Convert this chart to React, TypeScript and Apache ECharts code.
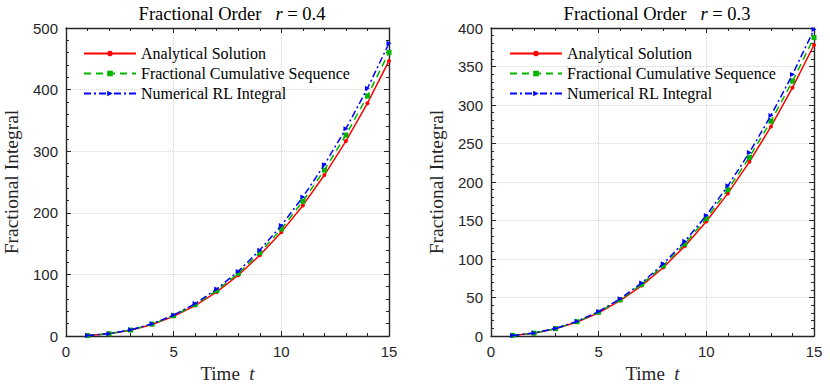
import React, { useEffect, useRef } from "react";
import * as echarts from "echarts";

const T = [1, 2, 3, 4, 5, 6, 7, 8, 9, 10, 11, 12, 13, 14, 15];

// r = 0.4
const A4 = [0.67, 3.54, 9.37, 18.69, 31.93, 49.47, 71.6, 98.6, 131.0, 168.6, 212.0, 261.3, 316.4, 378.0, 446.6];
const F4 = [0.69, 3.65, 9.66, 19.27, 32.92, 51.0, 73.8, 101.7, 135.1, 173.8, 218.6, 269.4, 326.2, 389.7, 460.5];
const R4 = [0.71, 3.77, 9.97, 19.89, 33.97, 52.6, 76.2, 104.9, 139.4, 179.4, 225.6, 278.0, 336.6, 402.2, 475.2];

// r = 0.3
const A3 = [0.75, 3.67, 9.33, 18.08, 30.19, 45.94, 65.48, 89.0, 116.7, 148.7, 185.2, 226.2, 271.9, 322.5, 377.9];
const F3 = [0.77, 3.77, 9.57, 18.55, 30.97, 47.1, 67.2, 91.3, 119.7, 152.6, 190.0, 232.1, 279.0, 330.9, 387.7];
const R3 = [0.78, 3.86, 9.82, 19.04, 31.79, 48.4, 68.9, 93.7, 122.9, 156.6, 195.0, 238.2, 286.3, 339.6, 398.0];

const NAMES = ["Analytical Solution", "Fractional Cumulative Sequence", "Numerical RL Integral"];
const TITLES = ["0.4", "0.3"];
const YMAX = [500, 400];
const YINT = [100, 50];

const AXIS_COLOR = "#262626";
const SERIF = "Liberation Serif";
const SANS = "Liberation Sans";
const RED = "#ff0000";
const GREEN = "#00b400";
const BLUE = "#0000ff";
const TRI = "path://M0,0 L10,5 L0,10 Z";

export default function App() {
  const ref = useRef<HTMLDivElement>(null);
  useEffect(() => {
    document.body.style.margin = "0";
    const chart = echarts.init(ref.current!, null, { renderer: "svg" });
    const grids = [
      { left: 66, right: 441, top: 28, bottom: 53 },
      { left: 491, right: 16, top: 28, bottom: 53 },
    ];
    const xAxis: any[] = [];
    const yAxis: any[] = [];
    const tick = { show: true, inside: true, length: 5, lineStyle: { color: AXIS_COLOR, width: 1 } };
    const minor = (n: number) => ({ show: true, splitNumber: n, length: 3, lineStyle: { color: AXIS_COLOR, width: 1 } });
    const line = { show: true, onZero: false, lineStyle: { color: AXIS_COLOR, width: 1.4 } };
    const rich = {
      a: { fontFamily: SERIF, fontSize: 19, fontWeight: "normal", color: "#262626" },
      i: { fontFamily: SERIF, fontSize: 19, fontWeight: "normal", fontStyle: "italic", color: "#262626" },
    };
    [0, 1].forEach((g) => {
      xAxis.push({
        type: "value", gridIndex: g, position: "bottom", min: 0, max: 15, interval: 5,
        axisLine: line, axisTick: tick, minorTick: minor(5),
        axisLabel: { color: AXIS_COLOR, fontFamily: SANS, fontSize: 15, margin: 8 },
        splitLine: { show: true, lineStyle: { type: "dotted", color: "#d8d8d8", width: 1 } },
        name: "{a|Time  }{i|t}", nameLocation: "middle", nameGap: 26,
        nameTextStyle: { fontFamily: SERIF, fontSize: 19, rich },
      });
      xAxis.push({
        type: "value", gridIndex: g, position: "top", min: 0, max: 15, interval: 5,
        axisLine: line, axisTick: tick, minorTick: minor(5),
        axisLabel: { show: false }, splitLine: { show: false },
      });
      yAxis.push({
        type: "value", gridIndex: g, position: "left", min: 0, max: YMAX[g], interval: YINT[g],
        axisLine: line, axisTick: tick, minorTick: minor(5),
        axisLabel: { color: AXIS_COLOR, fontFamily: SANS, fontSize: 15, margin: 8 },
        splitLine: { show: true, lineStyle: { type: "dotted", color: "#d8d8d8", width: 1 } },
        name: "Fractional Integral", nameLocation: "middle", nameGap: 45,
        nameTextStyle: { fontFamily: SERIF, fontSize: 19.5, fontWeight: "normal", color: "#262626" },
      });
      yAxis.push({
        type: "value", gridIndex: g, position: "right", min: 0, max: YMAX[g], interval: YINT[g],
        axisLine: line, axisTick: tick, minorTick: minor(5),
        axisLabel: { show: false }, splitLine: { show: false },
      });
    });

    const sets = [
      [A4, F4, R4],
      [A3, F3, R3],
    ];
    const styles = [
      { color: RED, type: "solid" as any, symbol: "circle", size: 4 },
      { color: GREEN, type: [7, 5] as any, symbol: "rect", size: 5 },
      { color: BLUE, type: [7, 3, 2, 3] as any, symbol: TRI, size: 5 },
    ];
    const series: any[] = [];
    [0, 1].forEach((g) => {
      sets[g].forEach((vals, k) => {
        const s = styles[k];
        series.push({
          type: "line", name: NAMES[k], xAxisIndex: g * 2, yAxisIndex: g * 2,
          data: T.map((t, i) => [t, vals[i]]),
          symbol: s.symbol, symbolSize: s.size, showSymbol: true,
          lineStyle: { color: s.color, width: 1.5, type: s.type },
          itemStyle: { color: s.color },
          z: 3 + k,
        });
      });
    });

    const titleRich = {
      a: { fontFamily: SERIF, fontSize: 18.5, fontWeight: "normal", color: "#000" },
      i: { fontFamily: SERIF, fontSize: 18.5, fontWeight: "normal", fontStyle: "italic", color: "#000" },
      g: { width: 14 },
    };
    chart.setOption({
      animation: false,
      title: [0, 1].map((g) => ({
        text: `{a|Fractional Order}{g|}{i|r}{a| = ${TITLES[g]}}`,
        left: g === 0 ? 227 : 652, top: -1, textAlign: "center",
        textStyle: { fontFamily: SERIF, fontSize: 18.5, fontWeight: "normal", rich: titleRich },
      })),
      legend: [0, 1].map((g) => ({
        data: NAMES, orient: "vertical", left: g === 0 ? 83 : 509, top: 44,
        itemWidth: 52, itemHeight: 7, itemGap: 1,
        textStyle: { fontFamily: SERIF, fontSize: 16, color: "#000", lineHeight: 19 },
        padding: 0,
      })),
      grid: grids,
      xAxis, yAxis, series,
    });
    return () => chart.dispose();
  }, []);
  return <div ref={ref} style={{ width: 830, height: 389 }} />;
}
